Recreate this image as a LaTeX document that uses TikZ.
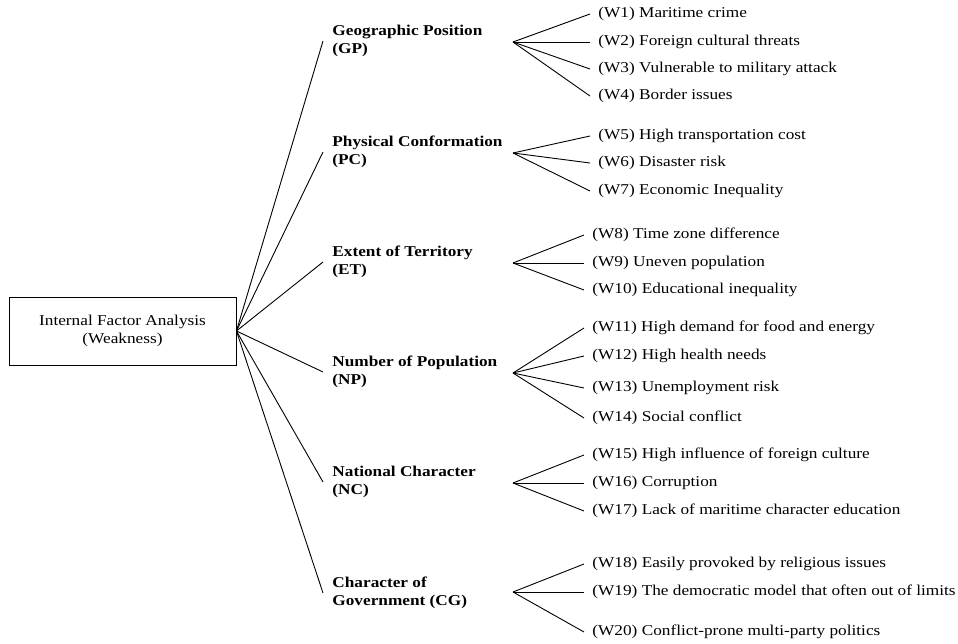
\documentclass[tikz,border=0pt]{standalone}
\usepackage{fontspec}
\setmainfont{Liberation Serif}[FakeStretch=1.15]
\begin{document}
\begin{tikzpicture}[x=1pt, y=-1pt, line width=0.9pt,
	every node/.style={font=\fontsize{15}{18}\selectfont},
	factor/.style={anchor=west, align=left, inner xsep=9pt, inner ysep=0pt, font=\fontsize{15}{18}\selectfont\bfseries},
	item/.style={anchor=west, inner xsep=8pt, inner ysep=0pt}]
	\useasboundingbox (0,0) rectangle (958,644);
	
	% Root box
	\node[draw, minimum width=227, minimum height=68, align=center] (root) at (122.5,331) {Internal Factor Analysis\\(Weakness)};
	
	% Factors
	\node[factor] (gp) at (323,41) {Geographic Position\\(GP)};
	\node[factor] (pc) at (323,152) {Physical Conformation\\(PC)};
	\node[factor] (et) at (323,262) {Extent of Territory\\(ET)};
	\node[factor] (np) at (323,372) {Number of Population\\(NP)};
	\node[factor] (nc) at (323,482) {National Character\\(NC)};
	\node[factor] (cg) at (323,593) {Character of\\Government (CG)};
	
	\draw (root.east) -- (gp.west);
	\draw (root.east) -- (pc.west);
	\draw (root.east) -- (et.west);
	\draw (root.east) -- (np.west);
	\draw (root.east) -- (nc.west);
	\draw (root.east) -- (cg.west);
	
	% Branch points
	\coordinate (gpb) at (513,42);
	\coordinate (pcb) at (513,153);
	\coordinate (etb) at (513,263);
	\coordinate (npb) at (513,373);
	\coordinate (ncb) at (513,483);
	\coordinate (cgb) at (513,592);
	
	% Weaknesses
	\node[item] (w1) at (590,14) {(W1) Maritime crime};
	\node[item] (w2) at (590,42) {(W2) Foreign cultural threats};
	\node[item] (w3) at (590,69) {(W3) Vulnerable to military attack};
	\node[item] (w4) at (590,96) {(W4) Border issues};
	\draw (gpb) -- (w1.west);
	\draw (gpb) -- (w2.west);
	\draw (gpb) -- (w3.west);
	\draw (gpb) -- (w4.west);
	
	\node[item] (w5) at (590,136) {(W5) High transportation cost};
	\node[item] (w6) at (590,163) {(W6) Disaster risk};
	\node[item] (w7) at (590,191) {(W7) Economic Inequality};
	\draw (pcb) -- (w5.west);
	\draw (pcb) -- (w6.west);
	\draw (pcb) -- (w7.west);
	
	\node[item] (w8) at (584,235) {(W8) Time zone difference};
	\node[item] (w9) at (584,263) {(W9) Uneven population};
	\node[item] (w10) at (584,290) {(W10) Educational inequality};
	\draw (etb) -- (w8.west);
	\draw (etb) -- (w9.west);
	\draw (etb) -- (w10.west);
	
	\node[item] (w11) at (584,328) {(W11) High demand for food and energy};
	\node[item] (w12) at (584,356) {(W12) High health needs};
	\node[item] (w13) at (584,388) {(W13) Unemployment risk};
	\node[item] (w14) at (584,418) {(W14) Social conflict};
	\draw (npb) -- (w11.west);
	\draw (npb) -- (w12.west);
	\draw (npb) -- (w13.west);
	\draw (npb) -- (w14.west);
	
	\node[item] (w15) at (584,455) {(W15) High influence of foreign culture};
	\node[item] (w16) at (584,483) {(W16) Corruption};
	\node[item] (w17) at (584,511) {(W17) Lack of maritime character education};
	\draw (ncb) -- (w15.west);
	\draw (ncb) -- (w16.west);
	\draw (ncb) -- (w17.west);
	
	\node[item] (w18) at (584,564) {(W18) Easily provoked by religious issues};
	\node[item] (w19) at (584,592) {(W19) The democratic model that often out of limits};
	\node[item] (w20) at (584,632) {(W20) Conflict-prone multi-party politics};
	\draw (cgb) -- (w18.west);
	\draw (cgb) -- (w19.west);
	\draw (cgb) -- (w20.west);
\end{tikzpicture}
\end{document}
